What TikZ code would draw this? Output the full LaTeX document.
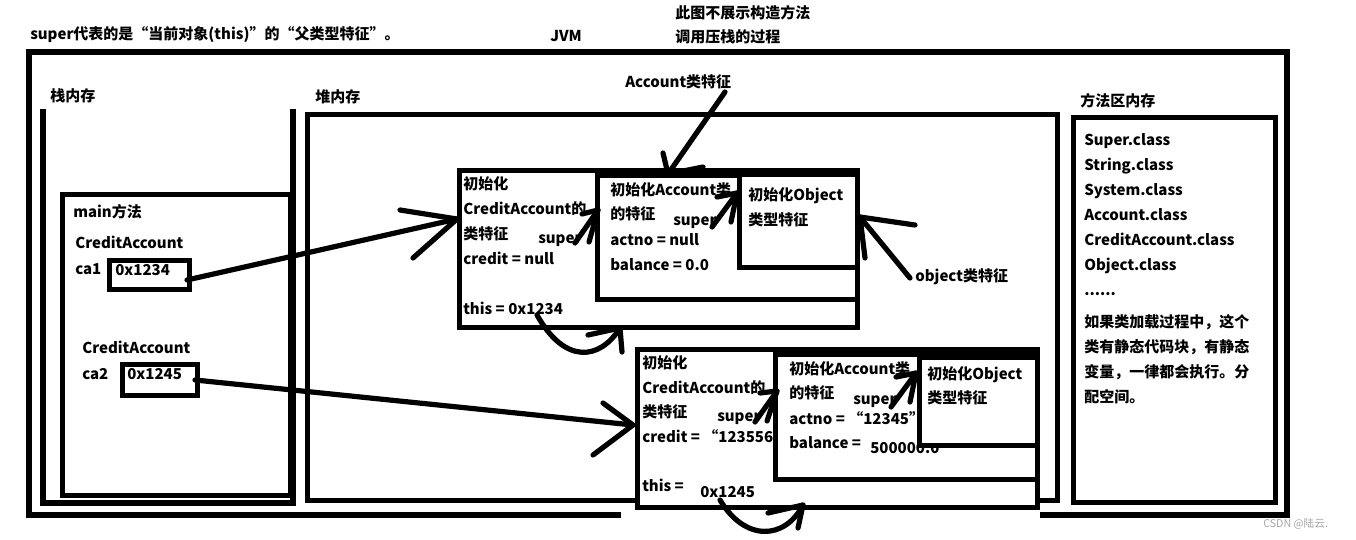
\documentclass[tikz,border=0pt]{standalone}
\usepackage{fontspec}
\setmainfont{Noto Sans CJK SC}
\newfontfamily\wmfont{Noto Sans CJK SC}
\newcommand{\fsz}{\fontsize{11.25pt}{13pt}\selectfont}
\begin{document}
\begin{tikzpicture}[x=0.75pt,y=-0.75pt,
  lbl/.style={anchor=base west, inner sep=0pt, font=\bfseries\fsz},
  box/.style={draw, line width=3.5pt, fill=white, inner sep=0pt, anchor=north west},
  stroke/.style={line width=3.9pt, line cap=round, line join=round},
  frame/.style={line width=4pt, line cap=rect}]
\useasboundingbox (0,0) rectangle (1356,539);
% header texts
\node[lbl] (title) at (30,39) {super代表的是“当前对象(this)”的“父类型特征”。};
\node[lbl] (jvm) at (550,41) {JVM};
\node[lbl] (note1) at (675,18) {此图不展示构造方法};
\node[lbl] (note2) at (675,42) {调用压栈的过程};
% JVM frame
\draw[frame] (29,515) -- (29,52) -- (1287,52) -- (1287,515) -- (1043,515);
\draw[frame] (29,515) -- (618,515);
% stack
\node[lbl] (stacklbl) at (50,101) {栈内存};
\draw[frame] (43,112) -- (43,503) -- (293,503) -- (293,112);
\node[box, minimum width=171pt, minimum height=225.75pt] (main) at (60,192) {};
\node[lbl] (mainlbl) at (73,217) {main方法};
\node[lbl] (ca1type) at (75,248) {CreditAccount};
\node[lbl] (ca1name) at (75,274) {ca1};
\node[box, minimum width=60pt, minimum height=21.75pt] (ca1) at (107,258) {};
\node[lbl] (ca1val) at (115,275) {0x1234};
\node[lbl] (ca2type) at (82,353) {CreditAccount};
\node[lbl] (ca2name) at (82,379) {ca2};
\node[box, minimum width=56.25pt, minimum height=23.25pt] (ca2) at (120,362) {};
\node[lbl] (ca2val) at (127,379) {0x1245};
% heap
\node[lbl] (heaplbl) at (315,102) {堆内存};
\node[box, line width=4pt, minimum width=562.5pt, minimum height=289.5pt] (heap) at (305,112) {};
\node[lbl] (acclbl) at (625,87) {Account类特征};
% object 1
\node[box, minimum width=298.5pt, minimum height=117.75pt] (obj1) at (457,168) {};
\node[lbl] (o1a) at (463,189) {初始化};
\node[lbl] (o1b) at (463,214) {CreditAccount的};
\node[lbl] (o1c) at (463,239) {类特征};
\node[lbl] (o1s) at (538,243) {super};
\node[lbl] (o1d) at (463,264) {credit = null};
\node[lbl] (o1e) at (463,314) {this = 0x1234};
\node[box, minimum width=195pt, minimum height=93pt] (acc1) at (595,173) {};
\node[lbl] (a1a) at (610,195) {初始化Account类};
\node[lbl] (a1b) at (610,219) {的特征};
\node[lbl] (a1s) at (673,225) {super};
\node[lbl] (a1c) at (610,245) {actno = null};
\node[lbl] (a1d) at (610,270) {balance = 0.0};
\node[box, minimum width=88.5pt, minimum height=69.75pt] (objc1) at (737,172) {};
\node[lbl] (c1a) at (748,200) {初始化Object};
\node[lbl] (c1b) at (748,225) {类型特征};
\node[lbl] (objlbl) at (915,281) {object类特征};
% object 2
\node[box, minimum width=300pt, minimum height=118.5pt] (obj2) at (635,347) {};
\node[lbl] (o2a) at (642,368) {初始化};
\node[lbl] (o2b) at (642,393) {CreditAccount的};
\node[lbl] (o2c) at (642,417) {类特征};
\node[lbl] (o2s) at (717,421) {super};
\node[lbl] (o2d) at (642,442) {credit = “123556”};
\node[lbl] (o2e) at (642,491) {this =};
\node[lbl] (o2f) at (700,497) {0x1245};
\node[box, minimum width=196.5pt, minimum height=93.75pt] (acc2) at (773,352) {};
\node[lbl] (a2a) at (789,374) {初始化Account类};
\node[lbl] (a2b) at (789,398) {的特征};
\node[lbl] (a2s) at (853,404) {super};
\node[lbl] (a2c) at (789,424) {actno = “12345”};
\node[lbl] (a2d) at (789,448) {balance =};
\node[lbl] (a2e) at (870,453) {500000.0};
\node[box, minimum width=88.5pt, minimum height=66pt] (objc2) at (917,355) {};
\node[lbl] (c2a) at (927,379) {初始化Object};
\node[lbl] (c2b) at (927,403) {类型特征};
% method area
\node[lbl] (mlbl) at (1080,106) {方法区内存};
\node[box, line width=4pt, minimum width=151.5pt, minimum height=288.75pt] (method) at (1071,115) {};
\node[lbl] (m1) at (1084,145) {Super.class};
\node[lbl] (m2) at (1084,170) {String.class};
\node[lbl] (m3) at (1084,195) {System.class};
\node[lbl] (m4) at (1084,220) {Account.class};
\node[lbl] (m5) at (1084,245) {CreditAccount.class};
\node[lbl] (m6) at (1084,270) {Object.class};
\node[lbl] (m7) at (1084,295) {......};
\node[lbl] (m8) at (1084,327) {如果类加载过程中，这个};
\node[lbl] (m9) at (1084,352) {类有静态代码块，有静态};
\node[lbl] (m10) at (1084,377) {变量，一律都会执行。分};
\node[lbl] (m11) at (1084,402) {配空间。};
\node[anchor=base west, inner sep=0pt, font=\wmfont\fontsize{8pt}{9pt}\selectfont, text=black!35] (wm) at (1263,527) {CSDN @陆云.};
% arrow coordinates
\coordinate (s1) at (187,280); \coordinate (t1) at (457,219);
\coordinate (s2) at (195,380); \coordinate (t2) at (633,425);
\coordinate (s3) at (575,243); \coordinate (t3) at (598,210);
\coordinate (s4) at (712,227); \coordinate (t4) at (737,193);
\coordinate (s5) at (755,422); \coordinate (t5) at (777,391);
\coordinate (s6) at (891,407); \coordinate (t6) at (916,373);
\coordinate (s7) at (725,92);  \coordinate (t7) at (668,174);
\coordinate (s8) at (910,278); \coordinate (t8) at (860,217);
\coordinate (s9) at (537,315); \coordinate (t9) at (620,328);
\coordinate (s10) at (720,500); \coordinate (t10) at (803,505);
% arrows
\draw[stroke] (s1) -- (t1); \draw[stroke] (400,210) -- (t1) -- (413,258);
\draw[stroke] (s2) -- (t2); \draw[stroke] (603,403) -- (t2) -- (593,455);
\draw[stroke] (s3) -- (t3); \draw[stroke] (582,214) -- (t3) -- (589,242);
\draw[stroke] (s4) -- (t4); \draw[stroke] (717,197) -- (t4) -- (731,222);
\draw[stroke] (s5) -- (t5); \draw[stroke] (760,393) -- (t5) -- (767,421);
\draw[stroke] (s6) -- (t6); \draw[stroke] (896,377) -- (t6) -- (910,402);
\draw[stroke] (s7) -- (t7); \draw[stroke] (663,153) -- (t7) -- (703,167);
\draw[stroke] (s8) -- (t8); \draw[stroke] (915,225) -- (t8) -- (865,258);
\draw[stroke] (s9) .. controls (565,365) and (600,360) .. (t9);
\draw[stroke] (588,335) -- (t9) -- (622,352);
\draw[stroke] (s10) .. controls (745,542) and (785,540) .. (t10);
\draw[stroke] (768,513) -- (t10) -- (798,528);
\end{tikzpicture}
\end{document}
